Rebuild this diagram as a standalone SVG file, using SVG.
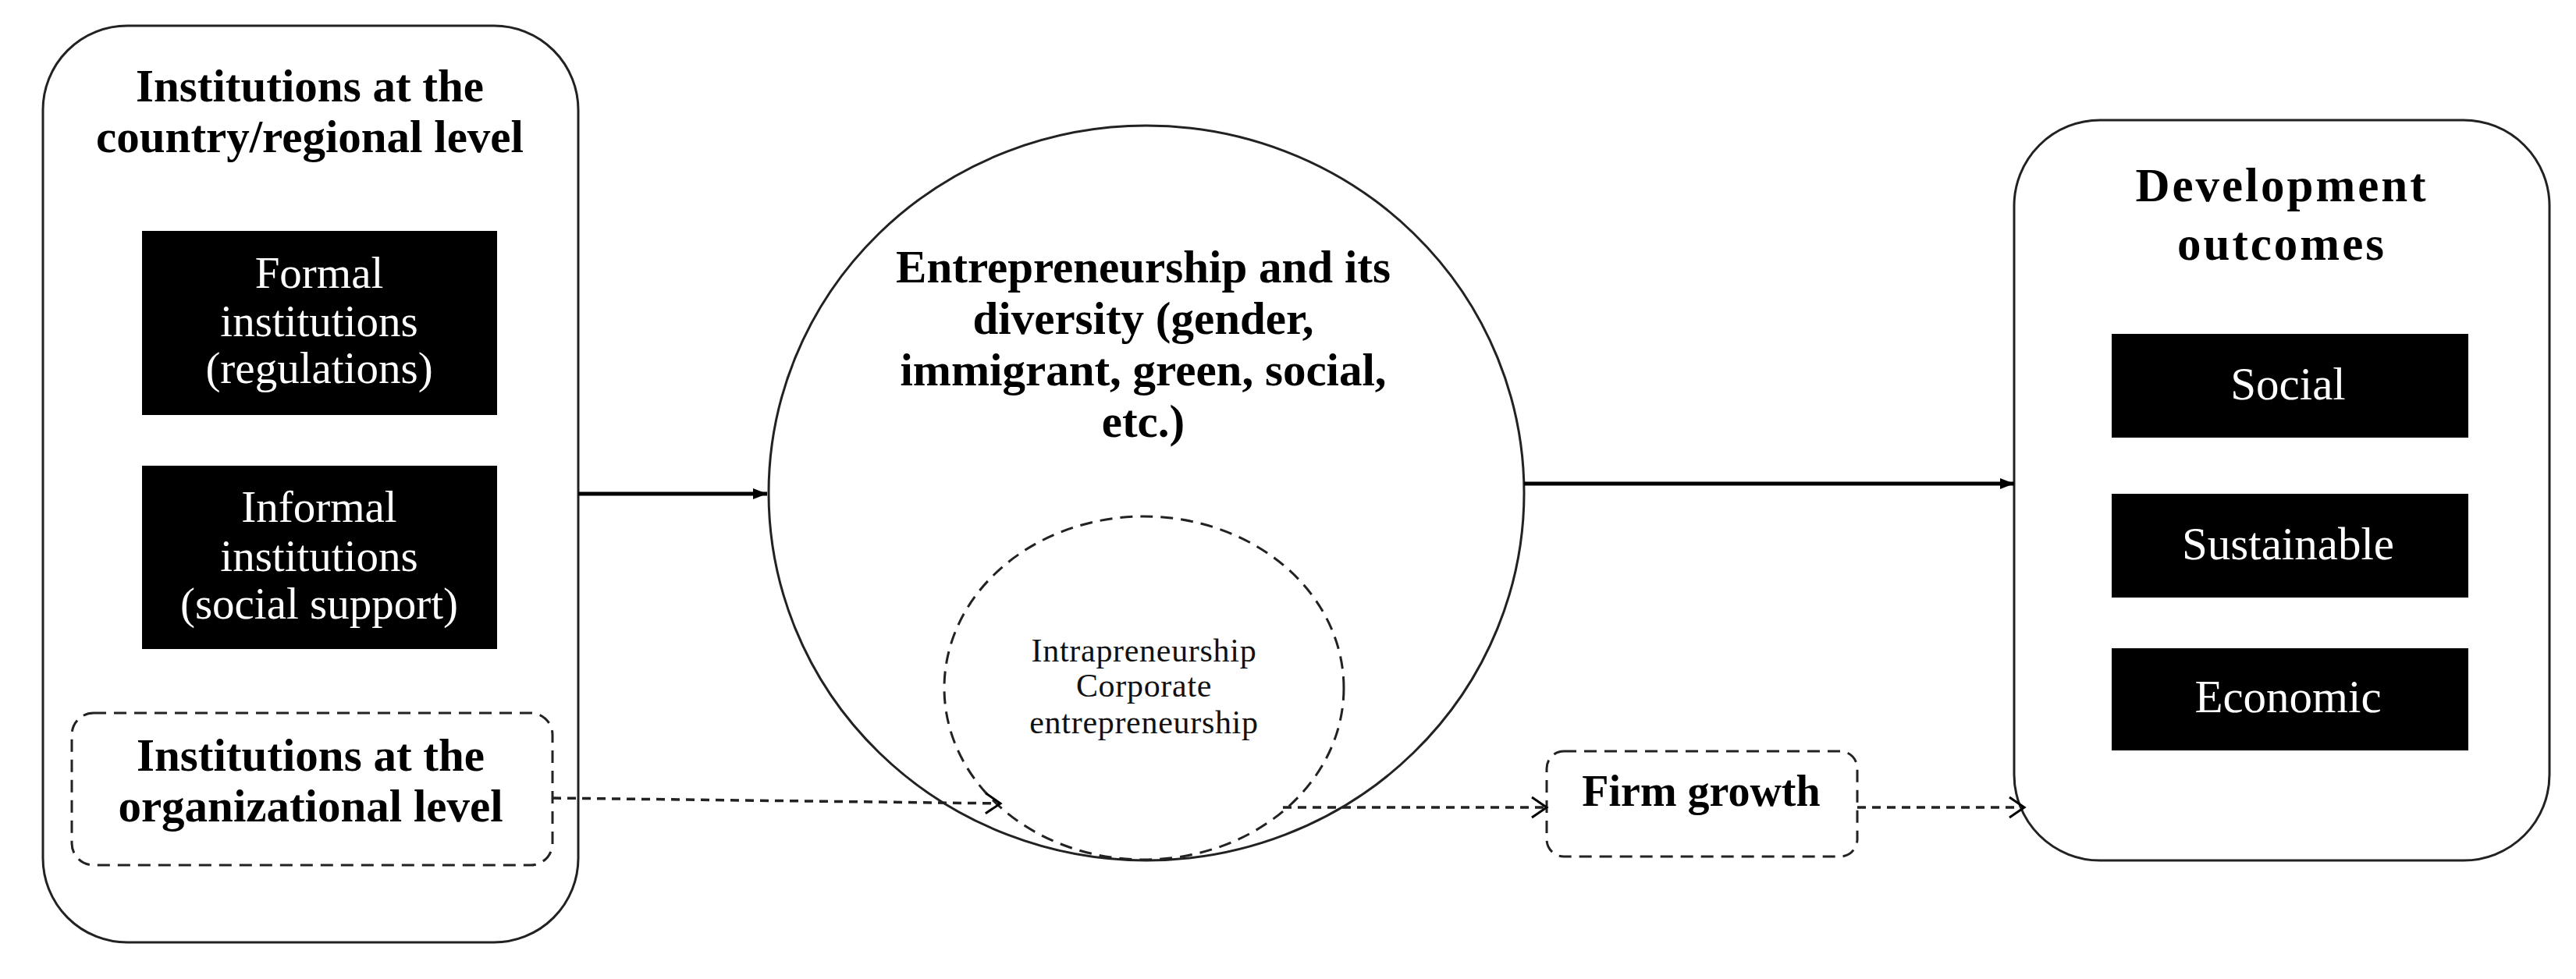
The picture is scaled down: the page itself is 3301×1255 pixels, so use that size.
<svg xmlns="http://www.w3.org/2000/svg" width="3301" height="1255" viewBox="0 0 3301 1255">
<style>
text{font-family:"Liberation Serif","Times New Roman",serif;text-anchor:middle}
.b{font-weight:bold;font-size:59px;fill:#000}
.w{font-size:57px;fill:#fff}
.wr{font-size:59px;fill:#fff}
.sm{font-size:42px;fill:#111;letter-spacing:0.7px}
.outer{fill:#fff;stroke:#222;stroke-width:3}
.blk{fill:#000}
.dsh{fill:none;stroke:#222;stroke-width:3;stroke-dasharray:16 10}
.sol{fill:none;stroke:#000;stroke-width:5}
.dot{fill:none;stroke:#222;stroke-width:3.5;stroke-dasharray:11 8}
</style>
<defs>
<marker id="ah" markerUnits="userSpaceOnUse" markerWidth="20" markerHeight="18" refX="18" refY="9" orient="auto"><path d="M0,2 L18,9 L0,16 Z" fill="#000"/></marker>
<marker id="ov" markerUnits="userSpaceOnUse" markerWidth="26" markerHeight="30" refX="22" refY="15" orient="auto"><path d="M3,2 L22,15 L3,28" fill="none" stroke="#000" stroke-width="3"/></marker>
</defs>
<rect width="3301" height="1255" fill="#fff"/>

<g id="left-box">
<rect class="outer" x="55" y="33" width="686" height="1175" rx="108" ry="108"/>
<text class="b" x="397" y="130">Institutions at the</text>
<text class="b" x="397" y="195">country/regional level</text>
</g>
<g id="formal">
<rect class="blk" x="182" y="296" width="455" height="236"/>
<text class="w" x="409" y="369">Formal</text>
<text class="w" x="409" y="431">institutions</text>
<text class="w" x="409" y="491">(regulations)</text>
</g>
<g id="informal">
<rect class="blk" x="182" y="597" width="455" height="235"/>
<text class="w" x="409" y="669">Informal</text>
<text class="w" x="409" y="732">institutions</text>
<text class="w" x="409" y="793">(social support)</text>
</g>
<g id="org-level">
<rect class="dsh" x="92" y="914" width="616" height="195" rx="28" ry="28"/>
<text class="b" x="398" y="988">Institutions at the</text>
<text class="b" x="398" y="1053">organizational level</text>
</g>

<g id="entrepreneurship">
<ellipse cx="1469" cy="632" rx="484" ry="471" fill="none" stroke="#222" stroke-width="3"/>
<text class="b" x="1465" y="362">Entrepreneurship and its</text>
<text class="b" x="1465" y="428">diversity (gender,</text>
<text class="b" x="1465" y="494">immigrant, green, social,</text>
<text class="b" x="1465" y="560">etc.)</text>
</g>
<g id="intrapreneurship">
<ellipse class="dsh" cx="1466" cy="882" rx="256" ry="220"/>
<text class="sm" x="1466" y="848">Intrapreneurship</text>
<text class="sm" x="1466" y="893">Corporate</text>
<text class="sm" x="1466" y="940">entrepreneurship</text>
</g>

<g id="firm-growth">
<rect class="dsh" x="1982" y="963" width="398" height="135" rx="22" ry="22"/>
<text class="b" x="2180" y="1033" style="font-size:56px">Firm growth</text>
</g>

<g id="outcomes">
<rect class="outer" x="2581" y="154" width="686" height="949" rx="110" ry="110"/>
<text class="b" x="2924" y="258" style="font-size:61px;letter-spacing:3px">Development</text>
<text class="b" x="2924" y="333" style="font-size:61px;letter-spacing:3px">outcomes</text>
</g>
<g id="social">
<rect class="blk" x="2706" y="428" width="457" height="133"/>
<text class="wr" x="2932" y="512">Social</text>
</g>
<g id="sustainable">
<rect class="blk" x="2706" y="633" width="457" height="133"/>
<text class="wr" x="2932" y="717">Sustainable</text>
</g>
<g id="economic">
<rect class="blk" x="2706" y="831" width="457" height="131"/>
<text class="wr" x="2932" y="913">Economic</text>
</g>

<g id="connectors">
<line class="sol" x1="741" y1="633" x2="983" y2="633" marker-end="url(#ah)"/>
<line class="sol" x1="1953" y1="620" x2="2581" y2="620" marker-end="url(#ah)"/>
<line class="dot" x1="708" y1="1023" x2="1282" y2="1030" marker-end="url(#ov)"/>
<line class="dot" x1="1644" y1="1035" x2="1982" y2="1035" marker-end="url(#ov)"/>
<line class="dot" x1="2380" y1="1035" x2="2594" y2="1035" marker-end="url(#ov)"/>
</g>
</svg>
